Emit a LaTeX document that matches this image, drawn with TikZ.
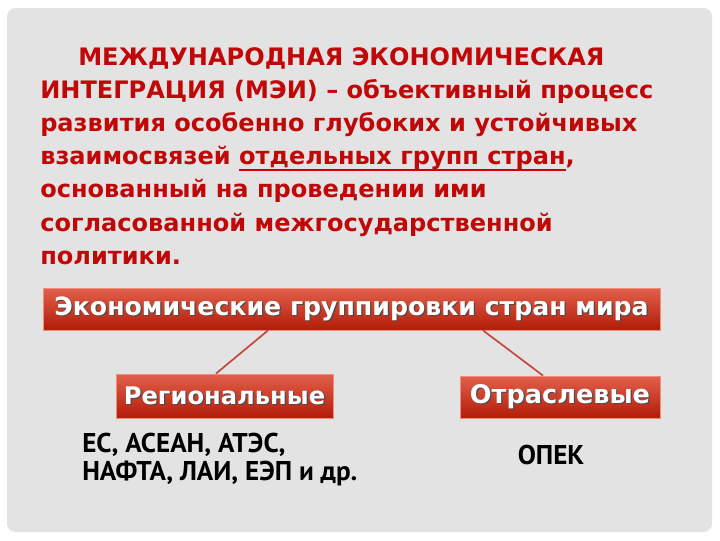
\documentclass[tikz,border=0pt]{standalone}
\usepackage{fontspec}
\setmainfont{DejaVu Sans}
\newfontfamily\listfont{PT Sans}
\usetikzlibrary{calc}

\definecolor{slidegray}{RGB}{227,227,227}
\definecolor{titlered}{RGB}{192,8,8}
\definecolor{boxtop}{RGB}{226,96,76}
\definecolor{boxbot}{RGB}{178,28,8}
\definecolor{boxedge}{RGB}{240,140,120}
\definecolor{linkred}{RGB}{196,70,60}

\newcommand{\shadowtext}[1]{\makebox[0pt][l]{\hspace{0.9pt}\raisebox{-0.9pt}{\color{black!70}#1}}#1}
\newcommand{\redline}[1]{\setbox0\hbox{#1}\rlap{\rule[-4.5pt]{\wd0}{1.3pt}}\box0}

\tikzset{
  groupbox/.style={shade, top color=boxtop, bottom color=boxbot, draw=boxedge, line width=0.6pt,
    text=white, inner sep=0pt, anchor=center},
  link/.style={draw=linkred, line width=1.2pt},
}

\begin{document}
\begin{tikzpicture}[x=0.025cm, y=-0.025cm]
\useasboundingbox[fill=white] (0,0) rectangle (720,540);
\fill[slidegray, rounded corners=6] (7,8) rectangle (712,532);

% definition
\node[anchor=north west, inner sep=0pt, align=left, text=titlered,
  font=\fontsize{17.1}{23.6}\selectfont\bfseries] (title) at (40,47)
  {\hspace*{27pt}МЕЖДУНАРОДНАЯ ЭКОНОМИЧЕСКАЯ\\
   ИНТЕГРАЦИЯ (МЭИ) -- объективный процесс\\
   развития особенно глубоких и устойчивых\\
   взаимосвязей \redline{отдельных групп стран},\\
   основанный на проведении ими\\
   согласованной межгосударственной\\
   политики.};

% groups
\node[groupbox, minimum width=617*0.025cm, minimum height=42*0.025cm,
  font=\fontsize{17.9}{19}\selectfont\bfseries] (eco) at (351.5,309)
  {\shadowtext{Экономические группировки стран мира}};
\node[groupbox, minimum width=217*0.025cm, minimum height=44*0.025cm,
  font=\fontsize{17.2}{19}\selectfont\bfseries] (reg) at (224.5,396)
  {\shadowtext{Региональные}};
\node[groupbox, minimum width=200*0.025cm, minimum height=42*0.025cm,
  font=\fontsize{18.2}{19}\selectfont\bfseries] (otr) at (560,397)
  {\shadowtext{Отраслевые}};

\draw[link] ($(eco.south)+(-83.5,0)$) -- ($(reg.north)+(-8.5,0)$);
\draw[link] ($(eco.south)+(131.5,0)$) -- ($(otr.north)+(-17,0)$);

% members
\node[anchor=north west, inner sep=0pt, align=left,
  font=\listfont\fontsize{19.3}{19.8}\selectfont\bfseries] (regmem) at (82,433)
  {ЕС, АСЕАН, АТЭС,\\НАФТА, ЛАИ, ЕЭП и др.};
\node[anchor=north, inner sep=0pt,
  font=\listfont\fontsize{19.3}{20}\selectfont\bfseries] (otrmem) at (551,445)
  {ОПЕК};
\end{tikzpicture}
\end{document}
